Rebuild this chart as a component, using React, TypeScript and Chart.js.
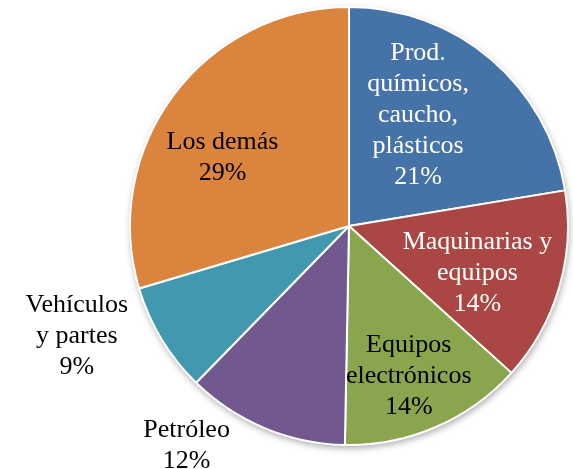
import React, { useEffect, useRef } from "react";
import { Chart, registerables } from "chart.js";

Chart.register(...registerables);

// Data
const categories = [
  "Prod. químicos, caucho, plásticos",
  "Maquinarias y equipos",
  "Equipos electrónicos",
  "Petróleo",
  "Vehículos y partes",
  "Los demás",
];
const shares = [22.4, 14.3, 13.6, 12.0, 8.1, 29.6];
const percentLabels = ["21%", "14%", "14%", "12%", "9%", "29%"];
const labelLines = [
  ["Prod.", "químicos,", "caucho,", "plásticos"],
  ["Maquinarias y", "equipos"],
  ["Equipos", "electrónicos"],
  ["Petróleo"],
  ["Vehículos", "y partes"],
  ["Los demás"],
];

// Styles
const sliceColors = ["#4572A7", "#AA4643", "#89A54E", "#71588F", "#4198AF", "#DB843D"];
const labelColors = ["#ffffff", "#ffffff", "#000000", "#000000", "#000000", "#000000"];
const labelAngles = [31.3, 109.2, 158, 216.8, 248.5, 299.1]; // degrees clockwise from top
const labelRadii = [0.607, 0.621, 0.728, 1.238, 1.336, 0.661]; // fraction of radius
const FONT = '26px "Liberation Serif", "Times New Roman", serif';
const LINE_H = 31;
const TEXT_SHIFT_Y = 2.5;

const shadowPlugin = {
  id: "pieShadow",
  beforeDatasetsDraw(chart: any) {
    const meta = chart.getDatasetMeta(0);
    const arc = meta.data[0];
    if (!arc) return;
    const { x, y, outerRadius } = arc.getProps(["x", "y", "outerRadius"], true);
    const ctx = chart.ctx;
    ctx.save();
    ctx.shadowColor = "rgba(0,0,0,0.35)";
    ctx.shadowBlur = 7;
    ctx.shadowOffsetX = 1;
    ctx.shadowOffsetY = 3;
    ctx.beginPath();
    ctx.arc(x, y, outerRadius, 0, Math.PI * 2);
    ctx.fillStyle = "#ffffff";
    ctx.fill();
    ctx.restore();
  },
};

const labelPlugin = {
  id: "sliceLabels",
  afterDatasetsDraw(chart: any) {
    const meta = chart.getDatasetMeta(0);
    const ctx = chart.ctx;
    ctx.save();
    ctx.font = FONT;
    ctx.textAlign = "center";
    ctx.textBaseline = "middle";
    meta.data.forEach((arc: any, i: number) => {
      const { x, y, outerRadius } = arc.getProps(["x", "y", "outerRadius"], true);
      const theta = ((labelAngles[i] - 90) * Math.PI) / 180;
      const ax = x + Math.cos(theta) * outerRadius * labelRadii[i];
      const ay = y + Math.sin(theta) * outerRadius * labelRadii[i] + TEXT_SHIFT_Y;
      const lines = [...labelLines[i], percentLabels[i]];
      const n = lines.length;
      ctx.fillStyle = labelColors[i];
      lines.forEach((t, k) => {
        ctx.fillText(t, ax, ay + (k - (n - 1) / 2) * LINE_H);
      });
    });
    ctx.restore();
  },
};

export default function App() {
  const ref = useRef<HTMLCanvasElement | null>(null);
  useEffect(() => {
    document.body.style.margin = "0";
    if (!ref.current) return;
    const chart = new Chart(ref.current, {
      type: "pie",
      data: {
        labels: categories,
        datasets: [
          {
            data: shares,
            backgroundColor: sliceColors,
            borderColor: "#ffffff",
            borderWidth: 2,
          },
        ],
      },
      options: {
        animation: false,
        responsive: false,
        maintainAspectRatio: false,
        layout: { padding: { left: 129, right: 4, top: 6, bottom: 23 } },
        plugins: {
          legend: { display: false },
          tooltip: { enabled: false },
        },
      },
      plugins: [shadowPlugin, labelPlugin],
    });
    return () => chart.destroy();
  }, []);
  return (
    <div style={{ position: "fixed", left: 0, top: 0, width: 573, height: 469, background: "#fff" }}>
      <canvas ref={ref} width={573} height={469} style={{ width: 573, height: 469 }} />
    </div>
  );
}
